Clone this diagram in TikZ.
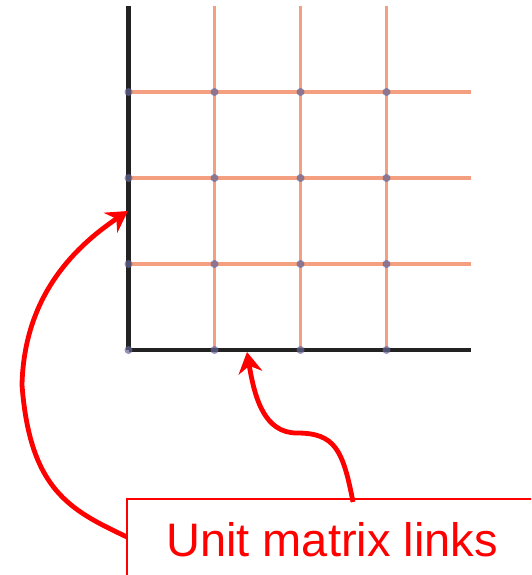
\documentclass[tikz,border=0pt]{standalone}
\usepackage{fontspec}
\setmainfont{Liberation Sans}
\usetikzlibrary{arrows.meta}
\definecolor{gridorange}{RGB}{244,160,128}
\definecolor{axisblack}{RGB}{34,34,34}
\definecolor{dotblue}{RGB}{100,100,150}
\definecolor{callred}{RGB}{255,0,0}
\tikzset{
  gridline/.style={gridorange, line width=3.2pt},
  axisline/.style={axisblack, line width=4.2pt},
  griddot/.style={circle, fill=dotblue, fill opacity=0.7, inner sep=0pt, minimum size=8pt},
  callout/.style={draw=callred, line width=1.4pt, text=callred, font=\fontsize{47}{56}\selectfont,
    minimum width=410pt, minimum height=82pt, inner sep=0pt},
  callarrow/.style={callred, line width=4.8pt, -{Stealth[length=21pt,width=24pt,inset=7pt]}},
}
\begin{document}
\begin{tikzpicture}[x=1pt,y=-1pt]
\useasboundingbox (0,0) rectangle (531,575);
\clip (0,0) rectangle (531,575);
% grid coordinates
\foreach \i/\x in {0/128.5,1/214.5,2/300.5,3/386.5}{
  \coordinate (top\i) at (\x,6);
  \coordinate (bot\i) at (\x,350);
}
\foreach \j/\y in {0/350,1/264,2/178,3/92}{
  \coordinate (left\j) at (128.5,\y);
  \coordinate (right\j) at (471,\y);
}
% orange grid lines
\foreach \i in {1,2,3}{ \draw[gridline] (top\i) -- (bot\i); }
\foreach \j in {1,2,3}{ \draw[gridline] (left\j) -- (right\j); }
% axes
\draw[axisline] (top0) -- (bot0);
\draw[axisline] (left0) -- (right0);
% dots
\foreach \i/\x in {0/128.5,1/214.5,2/300.5,3/386.5}{
  \foreach \j/\y in {0/350,1/264,2/178,3/92}{
    \node[griddot] (p\i\j) at (\x,\y) {};
  }
}
% callout box
\node[callout] (box) at (332,540) {Unit matrix links};
\coordinate (s1) at (127,537);
\coordinate (m1) at (22,385);
\coordinate (t1) at (128,211);
\coordinate (s2) at (353,502);
\coordinate (m2) at (297,433);
\coordinate (t2) at (247,352);
\draw[callarrow] (s1) .. controls (70,510) and (30,490) .. (m1)
  .. controls (24,300) and (70,250) .. (t1);
\draw[callarrow] (s2) .. controls (343,450) and (335,433) .. (m2)
  .. controls (265,433) and (255,400) .. (t2);
\end{tikzpicture}
\end{document}
